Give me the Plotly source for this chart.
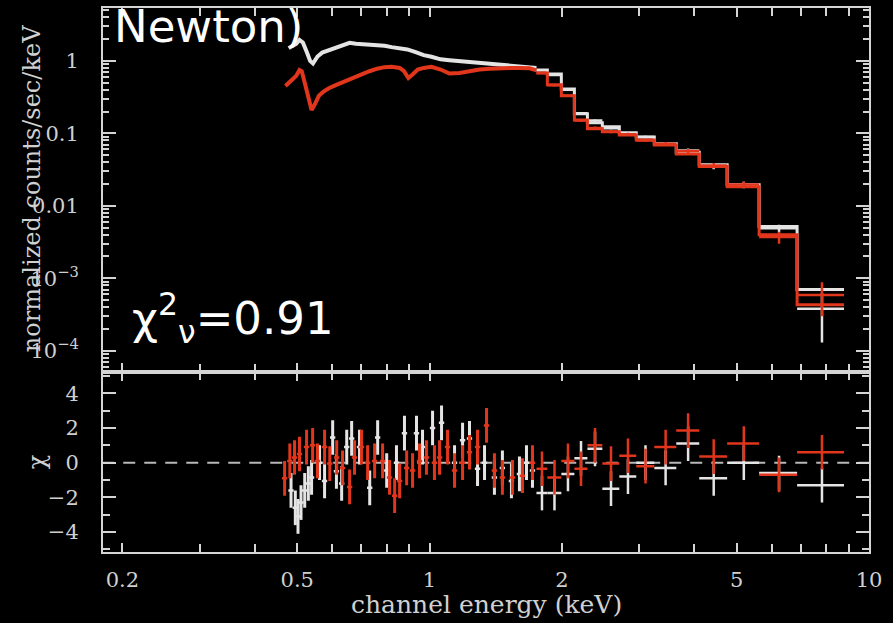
import plotly.graph_objects as go

# ---------------- data (keV, counts/s/keV, chi) ----------------
bin_edges = [1.751, 1.854, 1.995, 2.136, 2.287, 2.473, 2.703, 2.954, 3.247,
             3.643, 4.109, 4.756, 5.623, 6.861, 8.772]
white_model_hi = [0.75, 0.66, 0.41, 0.186, 0.14, 0.123, 0.102, 0.089, 0.072,
                  0.055, 0.037, 0.0195, 0.0052, 7.0e-4]
red_model_hi = [0.68, 0.47, 0.33, 0.153, 0.116, 0.105, 0.095, 0.081, 0.069,
                0.052, 0.035, 0.0183, 0.0040, 4.3e-4]
white_flux_hi = [0.74, 0.64, 0.40, 0.19, 0.15, 0.118, 0.100, 0.089, 0.071,
                 0.058, 0.035, 0.0195, 0.0049, 3.8e-4]
white_err_hi = [0.015, 0.013, 0.010, 0.006, 0.005, 0.004, 0.004, 0.004, 0.004,
                0.004, 0.003, 0.002, 0.0006, 2.5e-4]
red_flux_hi = [0.68, 0.46, 0.33, 0.15, 0.119, 0.105, 0.097, 0.080, 0.072,
               0.057, 0.036, 0.0197, 0.0037, 5.9e-4]
red_err_hi = [0.02, 0.015, 0.010, 0.006, 0.005, 0.005, 0.005, 0.004, 0.004,
              0.004, 0.003, 0.002, 0.0007, 2.9e-4]
white_res_hi = [-1.75, -1.75, -0.65, 0.25, 0.8, -1.5, -0.8, 0.0, -0.3,
                1.1, -0.9, 0.0, -0.6, -1.3]
red_res_hi = [-0.35, -0.85, 0.1, -0.35, 1.0, -0.05, 0.4, -0.2, 0.9,
              1.85, 0.35, 1.1, -0.7, 0.6]

white_lo_E = [0.478, 0.487, 0.497, 0.506, 0.515, 0.525, 0.535, 0.543, 0.556,
              0.570, 0.590, 0.610, 0.630, 0.658, 0.680, 0.705, 0.730, 0.760,
              0.790, 0.820, 0.855, 0.890, 0.930, 0.970, 1.01, 1.06, 1.11, 1.17,
              1.23, 1.30, 1.37, 1.45, 1.52, 1.60, 1.69, 1.751]
white_lo_flux = [1.50, 1.60, 1.72, 1.95, 1.80, 1.35, 1.00, 0.92, 1.15, 1.30,
                 1.40, 1.52, 1.62, 1.78, 1.72, 1.70, 1.66, 1.68, 1.62, 1.55,
                 1.50, 1.44, 1.32, 1.20, 1.14, 1.05, 1.02, 0.99, 0.97, 0.94,
                 0.91, 0.89, 0.88, 0.85, 0.82, 0.80]
red_lo_E = [0.470, 0.478, 0.487, 0.497, 0.506, 0.512, 0.520, 0.530, 0.539,
            0.548, 0.560, 0.575, 0.590, 0.610, 0.630, 0.655, 0.680, 0.705,
            0.730, 0.760, 0.790, 0.820, 0.855, 0.875, 0.895, 0.915, 0.94,
            0.97, 1.01, 1.06, 1.11, 1.17, 1.23, 1.30, 1.37, 1.45, 1.52, 1.60,
            1.69, 1.751]
red_lo_flux = [0.45, 0.50, 0.55, 0.62, 0.75, 0.72, 0.50, 0.30, 0.21, 0.25,
               0.33, 0.38, 0.42, 0.46, 0.50, 0.55, 0.62, 0.68, 0.72, 0.78,
               0.82, 0.83, 0.80, 0.72, 0.58, 0.65, 0.76, 0.80, 0.83, 0.76,
               0.67, 0.68, 0.72, 0.76, 0.78, 0.80, 0.80, 0.80, 0.79, 0.74]

white_res_lo_E = [0.484, 0.495, 0.502, 0.510, 0.520, 0.530, 0.539, 0.562,
                  0.577, 0.602, 0.614, 0.631, 0.648, 0.665, 0.693, 0.731,
                  0.762, 0.799, 0.841, 0.877, 0.934, 0.964, 1.016, 1.065,
                  1.140, 1.189, 1.233, 1.286, 1.334, 1.405, 1.465, 1.536,
                  1.602, 1.662, 1.715]
white_res_lo = [-1.6, -2.6, -3.1, -2.3, -1.6, -1.2, -0.85, 0.0, -1.05, 1.45,
                -0.5, -1.2, 0.9, 1.4, 0.9, -1.45, 1.45, -0.45, 0.0, 1.7, 1.7,
                0.9, 2.0, 2.3, 0.0, 1.3, 1.4, -0.35, 0.0, -0.85, -0.3, -1.05,
                -0.65, 0.0, -0.45]
red_res_lo_E = [0.468, 0.481, 0.493, 0.506, 0.525, 0.542, 0.556, 0.577,
                0.593, 0.615, 0.634, 0.658, 0.675, 0.700, 0.723, 0.750,
                0.782, 0.811, 0.833, 0.855, 0.887, 0.915, 0.949, 0.984,
                1.026, 1.054, 1.099, 1.140, 1.189, 1.233, 1.286, 1.348,
                1.405, 1.465, 1.544, 1.627, 1.715]
red_res_lo = [-0.9, 0.1, 0.3, 0.5, 0.9, 1.0, 0.1, 0.9, -0.05, 0.3, -0.3,
              -1.4, 0.3, 0.9, 0.0, 0.1, 0.1, -0.85, -1.9, -1.05, -0.3, -0.45,
              0.1, 0.3, 0.0, 0.3, 0.9, -0.45, 0.0, 0.6, 0.9, 2.15, -0.45,
              -0.85, -0.85, -0.75, 0.0]

ytick_vals = [1e-4, 1e-3, 0.01, 0.1, 1]
ytick_text = ["10<sup>−4</sup>", "10<sup>−3</sup>", "0.01", "0.1", "1"]
xtick_vals = [0.2, 0.5, 1, 2, 5, 10]
xtick_text = ["0.2", "0.5", "1", "2", "5", "10"]
rtick_vals = [-4, -2, 0, 2, 4]
rtick_text = ["−4", "−2", "0", "2", "4"]

# ---------------- styling ----------------
WHITE = "#e4e4e4"
RED = "#e2361c"
FRAME = "#d4d4d4"
TXT = "#d0d0d0"
SERIF = "DejaVu Serif"

centers = [(a + b) / 2 for a, b in zip(bin_edges[:-1], bin_edges[1:])]
halfw = [(b - a) / 2 for a, b in zip(bin_edges[:-1], bin_edges[1:])]

fig = go.Figure()

# zero line in residual panel
fig.add_trace(go.Scatter(x=[0.18, 10], y=[0, 0], mode="lines", xaxis="x2", yaxis="y2",
                         line=dict(color="#b8b8b8", width=2, dash="12px,9px"),
                         hoverinfo="skip", showlegend=False))

for col, loE, loF, model, flux, err, resE, res, resh in [
        (WHITE, white_lo_E, white_lo_flux, white_model_hi, white_flux_hi, white_err_hi,
         white_res_lo_E, white_res_lo, white_res_hi),
        (RED, red_lo_E, red_lo_flux, red_model_hi, red_flux_hi, red_err_hi,
         red_res_lo_E, red_res_lo, red_res_hi)]:
    fig.add_trace(go.Scatter(x=loE, y=loF, mode="lines", xaxis="x", yaxis="y",
                             line=dict(color=col, width=4), showlegend=False))
    fig.add_trace(go.Scatter(x=bin_edges, y=model + [model[-1]], mode="lines",
                             line_shape="hv", xaxis="x", yaxis="y",
                             line=dict(color=col, width=3), showlegend=False))
    fig.add_trace(go.Scatter(x=centers, y=flux, mode="markers", xaxis="x", yaxis="y",
                             marker=dict(size=1, color=col),
                             error_x=dict(type="data", array=halfw, color=col, thickness=2.5, width=0),
                             error_y=dict(type="data", array=err, color=col, thickness=2.5, width=0),
                             showlegend=False))
    fig.add_trace(go.Scatter(x=resE, y=res, mode="markers", xaxis="x2", yaxis="y2",
                             marker=dict(size=1, color=col),
                             error_x=dict(type="percent", value=1.4, color=col, thickness=2.5, width=0),
                             error_y=dict(type="constant", value=1, color=col, thickness=3, width=0),
                             showlegend=False))
    fig.add_trace(go.Scatter(x=centers, y=resh, mode="markers", xaxis="x2", yaxis="y2",
                             marker=dict(size=1, color=col),
                             error_x=dict(type="data", array=halfw, color=col, thickness=2.5, width=0),
                             error_y=dict(type="constant", value=1, color=col, thickness=2.5, width=0),
                             showlegend=False))

x_minor = [0.3, 0.4, 0.6, 0.7, 0.8, 0.9, 3, 4, 6, 7, 8, 9]
y_minor = [m * d for d in [1e-5, 1e-4, 1e-3, 1e-2, 1e-1, 1] for m in range(2, 10)]

axis_common = dict(showline=True, linecolor=FRAME, linewidth=2, mirror="allticks",
                   ticks="inside", tickcolor=FRAME, tickwidth=2, showgrid=False,
                   zeroline=False, tickfont=dict(family=SERIF, size=21, color=TXT))

fig.update_layout(
    width=893, height=623,
    margin=dict(l=103, r=24, t=6, b=71),
    paper_bgcolor="black", plot_bgcolor="black",
    xaxis=dict(type="log", range=[-0.743, 1.0], anchor="y", matches="x2",
               tickmode="array", tickvals=xtick_vals, ticktext=xtick_text, ticklen=9,
               showticklabels=False,
               minor=dict(tickmode="array", tickvals=x_minor, ticks="inside", ticklen=8,
                          tickcolor=FRAME, tickwidth=2),
               **axis_common),
    xaxis2=dict(type="log", range=[-0.743, 1.0], anchor="y2",
                tickmode="array", tickvals=xtick_vals, ticktext=xtick_text, ticklen=9,
                ticklabelstandoff=8,
                minor=dict(tickmode="array", tickvals=x_minor, ticks="inside", ticklen=8,
                           tickcolor=FRAME, tickwidth=2),
                **axis_common),
    yaxis=dict(type="log", range=[-4.30, 0.73], domain=[0.33, 1], anchor="x",
               tickmode="array", tickvals=ytick_vals, ticktext=ytick_text, ticklen=13,
               ticklabelstandoff=18,
               minor=dict(tickmode="array", tickvals=y_minor, ticks="inside", ticklen=6,
                          tickcolor=FRAME, tickwidth=2),
               **axis_common),
    yaxis2=dict(range=[-5.15, 5.2], domain=[0, 0.33], anchor="x2",
                tickmode="array", tickvals=rtick_vals, ticktext=rtick_text, ticklen=13,
                ticklabelstandoff=18,
                minor=dict(tickmode="array", tickvals=[-5, -3, -1, 1, 3, 5], ticks="inside",
                           ticklen=7, tickcolor=FRAME, tickwidth=2),
                **axis_common),
    annotations=[
        dict(text="normalized counts/sec/keV", xref="paper", yref="paper", x=0, y=0.667,
             xshift=-71, textangle=-90, showarrow=False, xanchor="center", yanchor="middle",
             font=dict(family=SERIF, size=24, color=TXT)),
        dict(text="χ", xref="paper", yref="paper", x=0, y=0.165, xshift=-66,
             textangle=-90, showarrow=False, xanchor="center", yanchor="middle",
             font=dict(family=SERIF, size=24, color=TXT)),
        dict(text="channel energy (keV)", xref="paper", yref="paper", x=0.5, y=-0.097,
             showarrow=False, xanchor="center", yanchor="middle",
             font=dict(family=SERIF, size=25, color=TXT)),
        dict(text="Newton)", xref="paper", yref="paper", x=0.0117, y=0.966,
             showarrow=False, xanchor="left", yanchor="middle",
             font=dict(family="DejaVu Sans", size=45, color="white")),
        dict(text="χ<sup>2</sup><sub>ν</sub>=0.91", xref="paper", yref="paper",
             x=0.035, y=0.431, showarrow=False, xanchor="left", yanchor="middle",
             font=dict(family="DejaVu Sans", size=45, color="white")),
    ],
)

fig.write_html("out.html")
